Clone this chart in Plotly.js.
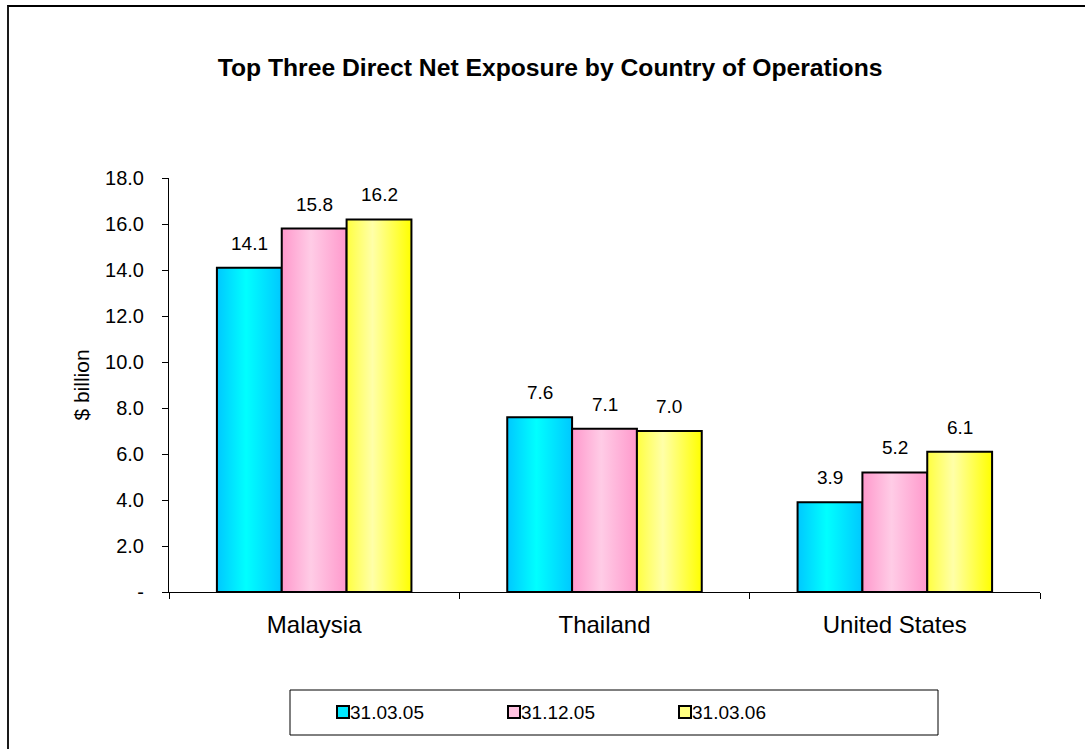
<!DOCTYPE html>
<html>
<head>
<meta charset="utf-8">
<script src="https://cdn.plot.ly/plotly-3.0.1.min.js"></script>
<style>
  html, body { margin: 0; padding: 0; background: #fff; overflow: hidden; }
  #wrap { position: relative; width: 1085px; height: 749px; }
  #chart { position: absolute; left: 0; top: 0; width: 1085px; height: 749px; }
  #frame { position: absolute; left: 7px; top: 5px; width: 2000px; height: 2000px;
           border-left: 2px solid #1a1a1a; border-top: 2px solid #000; pointer-events: none; }
</style>
</head>
<body>
<div id="wrap">
  <div id="chart"></div>
  <div id="frame"></div>
</div>
<script>
// ---- data ----
const categories = ["Malaysia", "Thailand", "United States"];
const seriesNames = ["31.03.05", "31.12.05", "31.03.06"];
const values0305 = [14.1, 7.6, 3.9];
const values1205 = [15.8, 7.1, 5.2];
const values0306 = [16.2, 7.0, 6.1];
const yTickVals = [0, 2, 4, 6, 8, 10, 12, 14, 16, 18];
const yTickText = ["-", "2.0", "4.0", "6.0", "8.0", "10.0", "12.0", "14.0", "16.0", "18.0"];

// ---- styles ----
const allValues = [values0305, values1205, values0306];
const baseColors = ["#00E8FF", "#FFC2E0", "#FFFF80"];
const gradients = [
  [["0%", "#00C8FF"], ["45%", "#00FFFF"], ["100%", "#00C8FF"]],
  [["0%", "#FF99CC"], ["45%", "#FFCCE6"], ["100%", "#FF99CC"]],
  [["0%", "#FFFF40"], ["40%", "#FFFFA8"], ["100%", "#FFFF00"]]
];
const FONT = "Arial, 'Liberation Sans', sans-serif";
const bargap = 0.33;
const barW = (1 - bargap) / 3;

const traces = allValues.map((vals, j) => ({
  type: "bar",
  name: seriesNames[j],
  x: categories,
  y: vals,
  marker: { color: baseColors[j], line: { color: "#000", width: 2 } },
  hoverinfo: "none"
}));

const annotations = [];
allValues.forEach((vals, j) => {
  vals.forEach((v, i) => {
    annotations.push({
      x: i + (j - 1) * barW, y: v, xref: "x", yref: "y",
      text: v.toFixed(1), showarrow: false,
      yanchor: "bottom", yshift: 12,
      font: { family: FONT, size: 19, color: "#000" }
    });
  });
});

const layout = {
  width: 1085, height: 749,
  margin: { l: 169, r: 45, t: 178, b: 157 },
  paper_bgcolor: "#fff", plot_bgcolor: "#fff",
  barmode: "group", bargap: bargap, bargroupgap: 0,
  showlegend: true,
  title: {
    text: "<b>Top Three Direct Net Exposure by Country of Operations</b>",
    font: { family: FONT, size: 24.7, color: "#000" },
    x: 0.507, xref: "container", xanchor: "center",
    y: 0.9105, yref: "container", yanchor: "middle"
  },
  xaxis: {
    type: "category",
    showline: true, linecolor: "#000", linewidth: 1,
    ticks: "outside", tickson: "boundaries", ticklen: 6, tickcolor: "#000",
    tickfont: { family: FONT, size: 24, color: "#000" },
    ticklabelstandoff: 11,
    showgrid: false, zeroline: false, fixedrange: true
  },
  yaxis: {
    range: [0, 18],
    tickvals: yTickVals, ticktext: yTickText,
    showline: true, linecolor: "#000", linewidth: 1,
    ticks: "outside", ticklen: 6, tickcolor: "#000",
    tickfont: { family: FONT, size: 20, color: "#000" },
    ticklabelstandoff: 14,
    showgrid: false, zeroline: false, fixedrange: true,
    title: { text: "$ billion", font: { family: FONT, size: 21, color: "#000" }, standoff: 9 },
    automargin: false
  },
  legend: {
    orientation: "h",
    x: (310 - 169) / 871, xanchor: "left",
    y: -0.29, yanchor: "middle",
    font: { family: FONT, size: 19, color: "#000" },
    bgcolor: "rgba(0,0,0,0)", borderwidth: 0,
    entrywidth: 126, entrywidthmode: "pixels",
    itemclick: false, itemdoubleclick: false
  },
  shapes: [{
    type: "rect", xref: "paper", yref: "paper",
    x0: (290 - 169) / 871, x1: (938 - 169) / 871,
    y0: (592 - 690) / 414, y1: (592 - 735) / 414,
    line: { color: "#000", width: 1 }, fillcolor: "rgba(0,0,0,0)", layer: "below"
  }],
  annotations: annotations
};

Plotly.newPlot("chart", traces, layout, { staticPlot: true, displayModeBar: false }).then(gd => {
  const svg = gd.querySelector("svg.main-svg");
  const ns = "http://www.w3.org/2000/svg";
  let defs = svg.querySelector("defs");
  if (!defs) { defs = document.createElementNS(ns, "defs"); svg.insertBefore(defs, svg.firstChild); }
  gradients.forEach((stops, j) => {
    const lg = document.createElementNS(ns, "linearGradient");
    lg.setAttribute("id", "bargrad" + j);
    lg.setAttribute("x1", "0"); lg.setAttribute("x2", "1");
    lg.setAttribute("y1", "0"); lg.setAttribute("y2", "0");
    stops.forEach(([off, col]) => {
      const s = document.createElementNS(ns, "stop");
      s.setAttribute("offset", off); s.setAttribute("stop-color", col);
      lg.appendChild(s);
    });
    defs.appendChild(lg);
  });
  gd.querySelectorAll(".barlayer .trace").forEach((g, j) => {
    g.querySelectorAll("path").forEach(p => { p.style.fill = "url(#bargrad" + j + ")"; });
  });
  // legend swatches: flat colours, sitting right next to their labels
  gd.querySelectorAll(".legend .traces .legendpoints").forEach(g => {
    g.setAttribute("transform", "translate(13,0)");
    g.querySelectorAll("path").forEach(p => { p.style.strokeWidth = "2px"; });
  });
});
</script>
</body>
</html>
